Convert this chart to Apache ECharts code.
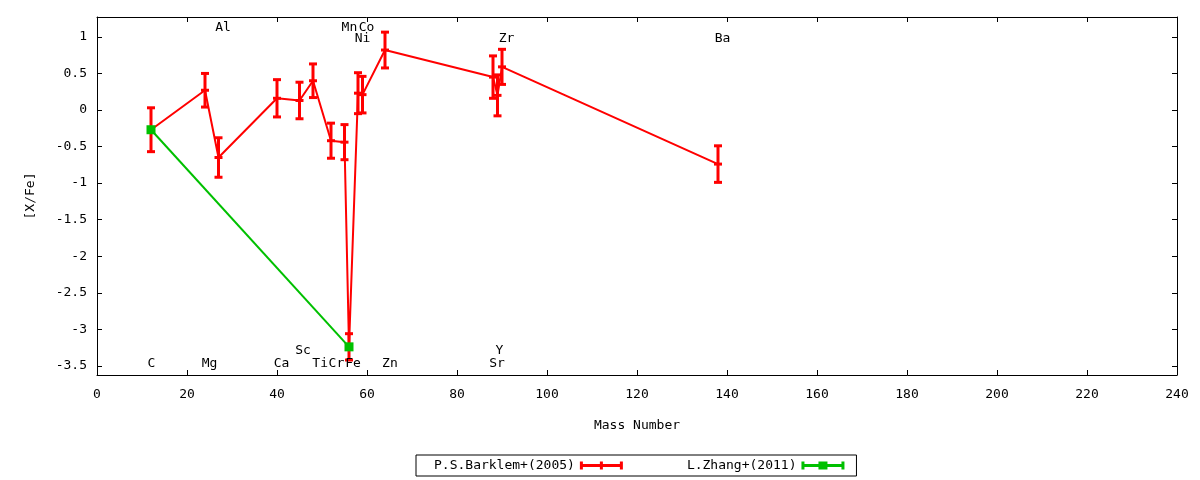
<!DOCTYPE html>
<html>
<head>
<meta charset="utf-8">
<script src="https://cdn.jsdelivr.net/npm/echarts@6/dist/echarts.min.js"></script>
<style>
html,body{margin:0;padding:0;background:#fff;}
#chart{width:1200px;height:480px;}
</style>
</head>
<body>
<div id="chart"></div>
<script>
// ---- data ----
const barklemMass = [12, 24, 27, 40, 45, 48, 52, 55, 56, 58, 59, 64, 88, 89, 90, 138];
const barklemVal  = [-0.27, 0.27, -0.65, 0.16, 0.13, 0.40, -0.42, -0.44, -3.24, 0.23, 0.21, 0.82, 0.45, 0.20, 0.59, -0.74];
const barklemErr  = [0.30, 0.23, 0.27, 0.255, 0.25, 0.23, 0.24, 0.24, 0.18, 0.28, 0.25, 0.245, 0.29, 0.28, 0.24, 0.25];
const zhangMass = [12, 56];
const zhangVal  = [-0.27, -3.24];
const zhangErr  = [0, 0];
const elemNames = ['C', 'Mg', 'Ca', 'Sc', 'Ti', 'Cr', 'Fe', 'Zn', 'Sr', 'Y', 'Al', 'Mn', 'Co', 'Ni', 'Zr', 'Ba'];
const elemX     = [12.1, 25.0, 41.0, 45.8, 49.6, 53.2, 56.9, 65.1, 88.9, 89.4, 28.0, 56.1, 59.9, 59.0, 91.0, 139.0];
const elemY     = [-3.47, -3.47, -3.47, -3.29, -3.47, -3.47, -3.47, -3.47, -3.47, -3.29, 1.12, 1.12, 1.12, 0.98, 0.98, 0.98];
const xTicks = [0, 20, 40, 60, 80, 100, 120, 140, 160, 180, 200, 220, 240];
const yTicks = [-3.5, -3, -2.5, -2, -1.5, -1, -0.5, 0, 0.5, 1];
const seriesNames = ['P.S.Barklem+(2005)', 'L.Zhang+(2011)'];

const FONT = 'DejaVu Sans Mono';
const RED = '#ff0000';
const GREEN = '#00c000';

function zip3(a, b, c) { return a.map((v, i) => [v, b[i], c[i]]); }

function errRender(color, markerType) {
  return function (params, api) {
    const x = api.value(0), y = api.value(1), e = api.value(2);
    const c = api.coord([x, y]);
    const t = api.coord([x, y + e]);
    const b = api.coord([x, y - e]);
    const hw = 4;
    const st = { stroke: color, lineWidth: 3 };
    const children = [];
    if (e > 0) {
      children.push({ type: 'line', shape: { x1: c[0], y1: t[1], x2: c[0], y2: b[1] }, style: st });
      children.push({ type: 'line', shape: { x1: c[0] - hw, y1: t[1], x2: c[0] + hw, y2: t[1] }, style: st });
      children.push({ type: 'line', shape: { x1: c[0] - hw, y1: b[1], x2: c[0] + hw, y2: b[1] }, style: st });
    }
    if (markerType === 'plus') {
      children.push({ type: 'line', shape: { x1: c[0] - hw, y1: c[1], x2: c[0] + hw, y2: c[1] }, style: st });
    } else {
      children.push({ type: 'rect', shape: { x: c[0] - 4.5, y: c[1] - 4.5, width: 9, height: 9 }, style: { fill: color } });
    }
    return { type: 'group', children: children };
  };
}

function textRender(params, api) {
  const p = api.coord([api.value(0), api.value(1)]);
  return {
    type: 'text', x: p[0], y: p[1],
    style: { text: elemNames[params.dataIndex], fill: '#000', font: '13px "' + FONT + '"', align: 'center', verticalAlign: 'middle' }
  };
}

const chart = echarts.init(document.getElementById('chart'), null, { renderer: 'canvas' });

const axisLineCfg = { show: true, onZero: false, lineStyle: { color: '#000', width: 1 } };
const tickCfg = { show: true, inside: true, length: 5, lineStyle: { color: '#000', width: 1 } };

const option = {
  animation: false,
  backgroundColor: '#fff',
  textStyle: { fontFamily: FONT },
  grid: { left: 97, right: 23, top: 17, bottom: 105, containLabel: false },
  xAxis: [
    {
      type: 'value', min: 0, max: 240, interval: 20, position: 'bottom',
      name: 'Mass Number', nameLocation: 'middle', nameGap: 44,
      nameTextStyle: { fontFamily: FONT, fontSize: 13, color: '#000' },
      axisLine: axisLineCfg, splitLine: { show: false },
      axisLabel: { show: true, margin: 13, fontFamily: FONT, fontSize: 13, color: '#000', customValues: xTicks },
      axisTick: Object.assign({}, tickCfg, { customValues: xTicks })
    },
    {
      type: 'value', min: 0, max: 240, interval: 20, position: 'top',
      axisLine: axisLineCfg, splitLine: { show: false },
      axisLabel: { show: false },
      axisTick: Object.assign({}, tickCfg, { customValues: xTicks })
    }
  ],
  yAxis: [
    {
      type: 'value', min: -3.625, max: 1.272, position: 'left',
      name: '[X/Fe]', nameLocation: 'middle', nameGap: 60, nameRotate: 90,
      nameTextStyle: { fontFamily: FONT, fontSize: 13, color: '#000' },
      axisLine: axisLineCfg, splitLine: { show: false },
      axisLabel: { show: true, margin: 10, fontFamily: FONT, fontSize: 13, color: '#000', customValues: yTicks },
      axisTick: Object.assign({}, tickCfg, { customValues: yTicks })
    },
    {
      type: 'value', min: -3.625, max: 1.272, position: 'right',
      axisLine: axisLineCfg, splitLine: { show: false },
      axisLabel: { show: false },
      axisTick: Object.assign({}, tickCfg, { customValues: yTicks })
    }
  ],
  legend: {
    left: 416, top: 455,
    orient: 'horizontal',
    align: 'right',
    itemWidth: 43, itemHeight: 8, itemGap: 64,
    padding: [4, 12, 4, 18],
    borderColor: '#000', borderWidth: 1,
    textStyle: { fontFamily: FONT, fontSize: 13, color: '#000' },
    data: [
      { name: seriesNames[0], icon: 'path://M0,0h3v8h-3z M0,2.5h43v3h-43z M40,0h3v8h-3z M20,0h3v8h-3z', itemStyle: { color: RED } },
      { name: seriesNames[1], icon: 'path://M0,0h3v8h-3z M0,2.5h43v3h-43z M40,0h3v8h-3z M17,0h9v8h-9z', itemStyle: { color: GREEN } }
    ]
  },
  series: [
    {
      name: seriesNames[0], type: 'line', xAxisIndex: 0, yAxisIndex: 0,
      data: barklemMass.map((m, i) => [m, barklemVal[i]]),
      showSymbol: false, symbol: 'none',
      lineStyle: { color: RED, width: 2 }, itemStyle: { color: RED }, z: 2
    },
    {
      name: seriesNames[1], type: 'line', xAxisIndex: 0, yAxisIndex: 0,
      data: zhangMass.map((m, i) => [m, zhangVal[i]]),
      showSymbol: false, symbol: 'none',
      lineStyle: { color: GREEN, width: 2 }, itemStyle: { color: GREEN }, z: 2
    },
    {
      name: seriesNames[0], type: 'custom', xAxisIndex: 0, yAxisIndex: 0,
      data: zip3(barklemMass, barklemVal, barklemErr),
      renderItem: errRender(RED, 'plus'), itemStyle: { color: RED }, z: 3, clip: false
    },
    {
      name: seriesNames[1], type: 'custom', xAxisIndex: 0, yAxisIndex: 0,
      data: zip3(zhangMass, zhangVal, zhangErr),
      renderItem: errRender(GREEN, 'square'), itemStyle: { color: GREEN }, z: 4, clip: false
    },
    {
      type: 'custom', xAxisIndex: 0, yAxisIndex: 0, silent: true, z: 5, clip: false,
      data: elemX.map((x, i) => [x, elemY[i]]),
      renderItem: textRender
    }
  ]
};
chart.setOption(option);
</script>
</body>
</html>
